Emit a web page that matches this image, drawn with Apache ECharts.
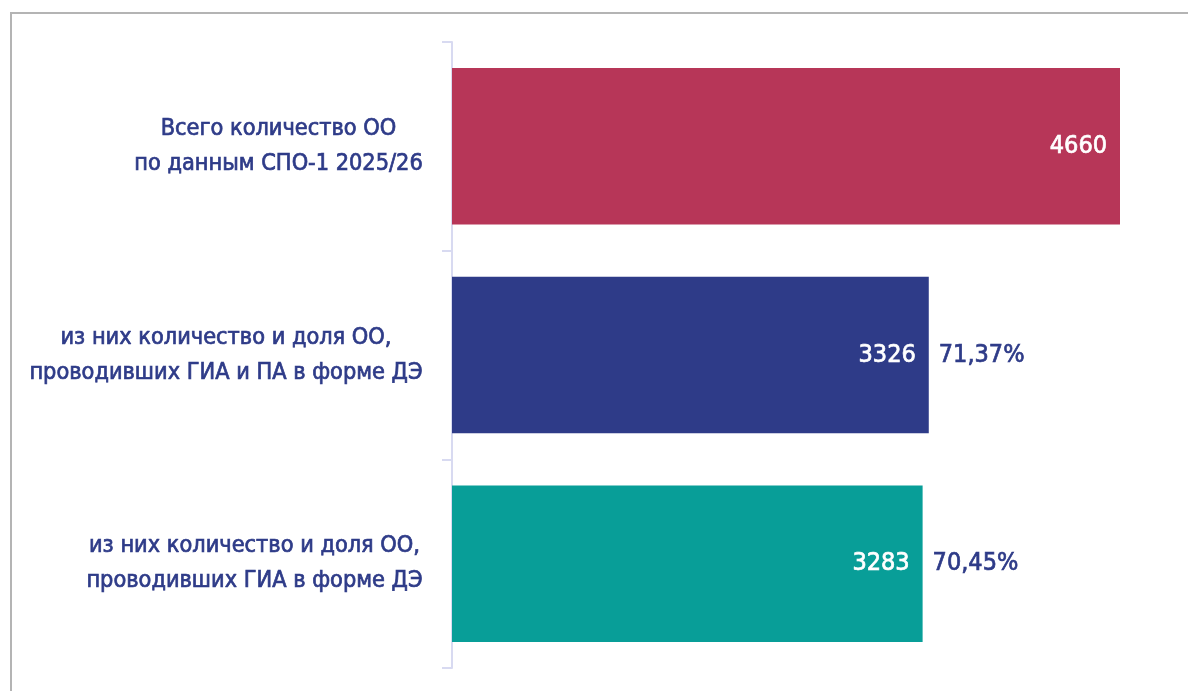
<!DOCTYPE html>
<html><head><meta charset="utf-8">
<script src="https://cdn.jsdelivr.net/npm/echarts@6/dist/echarts.min.js"></script>
<style>
html,body{margin:0;padding:0;background:#fff;overflow:hidden}
#frame{position:absolute;left:10px;top:12px;width:1300px;height:800px;border-left:2px solid #b4b4b4;border-top:2px solid #b4b4b4}
#c{position:absolute;left:0;top:0;width:1188px;height:691px}
</style></head>
<body><div id="frame"></div><div id="c"></div>
<script>
const categories = ['Всего количество ОО\nпо данным СПО-1 2025/26', 'из них количество и доля ОО,\nпроводивших ГИА и ПА в форме ДЭ', 'из них количество и доля ОО,\nпроводивших ГИА в форме ДЭ'];
const values = [4660, 3326, 3283];
const shares = ['', '71,37%', '70,45%'];
const colors = ['#b73658', '#2e3b88', '#089e98'];
const FONT = '"DejaVu Sans Condensed", "Liberation Sans Narrow", sans-serif';
const LABEL_SIZE = 23.3;
const TEXT_COLOR = '#2e3b88';

// measure each label's widest line so lines can be centred within a right-aligned block
const ctx = document.createElement('canvas').getContext('2d');
ctx.font = LABEL_SIZE + 'px ' + FONT;
const rich = {};
categories.forEach((c, i) => {
  const w = Math.max(...c.split('\n').map(s => ctx.measureText(s).width));
  rich['l' + i] = {width: Math.ceil(w) + 2, align: 'center', color: TEXT_COLOR, fontFamily: FONT, fontSize: LABEL_SIZE, lineHeight: 35,
    textBorderColor: TEXT_COLOR, textBorderWidth: 0.7};
});

const chart = echarts.init(document.getElementById('c'));
chart.setOption({
  animation: false,
  grid: {left: 452, right: 68, top: 42, bottom: 23},
  xAxis: {type: 'value', min: 0, max: 4660, show: false},
  yAxis: {
    type: 'category', inverse: true, data: categories,
    axisLine: {show: true, lineStyle: {color: '#d8daf1', width: 2}},
    axisTick: {show: true, length: 10, lineStyle: {color: '#d8daf1', width: 2}},
    axisLabel: {
      margin: 28, align: 'right', rich: rich,
      formatter: (v, i) => v.split('\n').map(s => '{l' + i + '|' + s + '}').join('\n')
    }
  },
  series: [{
    type: 'bar', barWidth: '75%',
    data: values.map((v, i) => ({value: v, itemStyle: {color: colors[i]}})),
    label: {show: true, position: 'insideRight', distance: 13, color: '#fff', fontFamily: FONT, fontSize: 25,
      textBorderColor: '#fff', textBorderWidth: 0.7}
  }, {
    type: 'scatter', symbolSize: 0, silent: true, itemStyle: {opacity: 1},
    data: values.map((v, i) => [v, i]),
    label: {show: true, position: 'right', distance: 10, color: TEXT_COLOR, fontFamily: FONT, fontSize: 25,
      textBorderColor: TEXT_COLOR, textBorderWidth: 0.7,
      formatter: p => shares[p.dataIndex]}
  }]
});
</script></body></html>
